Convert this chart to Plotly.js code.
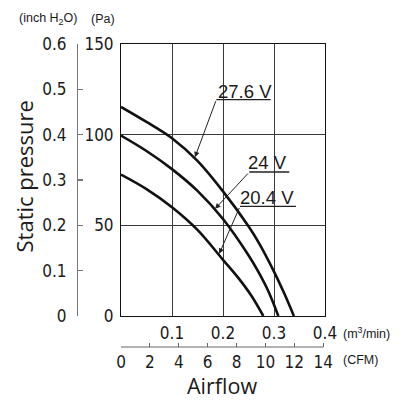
<!DOCTYPE html>
<html>
<head>
<meta charset="utf-8">
<script src="https://cdn.plot.ly/plotly-3.0.1.min.js"></script>
<style>
  html, body { margin: 0; padding: 0; background: #fff; }
  #chart { width: 406px; height: 416px; }
</style>
</head>
<body>
<div id="chart"></div>
<script>
// P-Q curves of the fan at three supply voltages (airflow in m³/min, pressure in Pa)
const flow276 = [0, 0.05, 0.10, 0.15, 0.20, 0.25, 0.27, 0.30, 0.32, 0.339];
const pa276   = [115.3, 107, 98, 85.5, 68.7, 49.5, 40.5, 24.5, 12.5, 0];
const flow24  = [0, 0.05, 0.10, 0.15, 0.20, 0.25, 0.27, 0.29, 0.3085];
const pa24    = [99.5, 91, 81, 69, 53.5, 33.5, 24, 13, 0];
const flow204 = [0, 0.05, 0.10, 0.15, 0.20, 0.23, 0.256, 0.279];
const pa204   = [78, 70, 60, 47.5, 31, 21, 11, 0];

const voltageLabels = ['27.6 V', '24 V', '20.4 V'];

// axis ticks
const flowTicks = [0.1, 0.2, 0.3, 0.4];
const paTicks = [0, 50, 100, 150];
const inchTicks = [0, 0.1, 0.2, 0.3, 0.4, 0.5, 0.6];
const cfmTicks = [0, 2, 4, 6, 8, 10, 12, 14];

const M3MIN_PER_CFM = 0.0283168;
const FLOW_MAX = 0.4;
const PA_MAX = 150;
const INCH_MAX = 0.6;

// page geometry (pixels)
const W = 406, H = 416;
const PAPER_L = 77, PAPER_R = 325, PAPER_T = 44, PAPER_B = 347;
const PLOT_L = 121, PLOT_B = 316;
const px = x => (x - PAPER_L) / (PAPER_R - PAPER_L);
const py = y => (PAPER_B - y) / (PAPER_B - PAPER_T);

const numFont = 'Liberation Sans Narrow, DejaVu Sans Condensed, Arial Narrow, sans-serif';
const textFont = 'Open Sans, Noto Sans, sans-serif';
const ink = '#1a1a1a';

// pressure on a curve at a given flow (linear between samples)
function pressureAt(xs, ys, q) {
  for (let i = 1; i < xs.length; i++) {
    if (q <= xs[i]) {
      const t = (q - xs[i - 1]) / (xs[i] - xs[i - 1]);
      return ys[i - 1] + t * (ys[i] - ys[i - 1]);
    }
  }
  return ys[ys.length - 1];
}

function curve(x, y) {
  return {
    x: x, y: y, type: 'scatter', mode: 'lines',
    line: { color: '#111', width: 2.6, shape: 'spline', smoothing: 1 },
    hoverinfo: 'skip', showlegend: false
  };
}

const traces = [
  curve(flow276, pa276),
  curve(flow24, pa24),
  curve(flow204, pa204),
  // carriers for the secondary scales
  { x: [0, 14], y: [null, null], xaxis: 'x2', yaxis: 'y', type: 'scatter', mode: 'lines',
    hoverinfo: 'skip', showlegend: false },
  { x: [null, null], y: [0, INCH_MAX], xaxis: 'x', yaxis: 'y2', type: 'scatter', mode: 'lines',
    hoverinfo: 'skip', showlegend: false }
];

// voltage callouts: text, underline, leader arrow to the curve
const callouts = [
  { text: voltageLabels[0], xs: flow276, ys: pa276, tx: 0.2422, ty: 123.9, u0: 0.1869, u1: 0.2935, uy: 119.3, aq: 0.1450 },
  { text: voltageLabels[1], xs: flow24,  ys: pa24,  tx: 0.2882, ty: 84.4,  u0: 0.2516, u1: 0.3300, uy: 79.4,  aq: 0.1845 },
  { text: voltageLabels[2], xs: flow204, ys: pa204, tx: 0.2857, ty: 65.5,  u0: 0.2333, u1: 0.3431, uy: 60.4,  aq: 0.1925 }
];

const annotations = [];
const shapes = [];
callouts.forEach(c => {
  annotations.push({
    x: c.tx, y: c.ty, xref: 'x', yref: 'y', text: c.text, showarrow: false,
    xanchor: 'center', yanchor: 'middle',
    font: { family: 'Liberation Sans, Arial, sans-serif', size: 18.5, color: ink }
  });
  shapes.push({
    type: 'line', xref: 'x', yref: 'y', x0: c.u0, x1: c.u1, y0: c.uy, y1: c.uy,
    line: { color: '#222', width: 1.3 }
  });
  annotations.push({
    x: c.aq, y: pressureAt(c.xs, c.ys, c.aq) + 0.8, xref: 'x', yref: 'y', text: '', showarrow: true,
    axref: 'x', ayref: 'y', ax: c.u0, ay: c.uy,
    arrowhead: 2, arrowsize: 1.1, arrowwidth: 1, arrowcolor: '#222', standoff: 0
  });
});

// CFM scale baseline (0 to 14 CFM)
shapes.push({
  type: 'line', xref: 'x2', yref: 'paper', x0: cfmTicks[0], x1: cfmTicks[cfmTicks.length - 1],
  y0: 0, y1: 0, line: { color: '#666', width: 1.2 }
});

const unitFont = { family: 'Liberation Sans, Arial, sans-serif', size: 12.5, color: ink };
annotations.push(
  { xref: 'paper', yref: 'paper', x: px(17), y: py(19), xanchor: 'left', yanchor: 'middle',
    text: '(inch H<sub>2</sub>O)', showarrow: false, font: unitFont },
  { xref: 'paper', yref: 'paper', x: px(89), y: py(19), xanchor: 'left', yanchor: 'middle',
    text: '(Pa)', showarrow: false, font: unitFont },
  { xref: 'paper', yref: 'paper', x: px(341), y: py(333), xanchor: 'left', yanchor: 'middle',
    text: '(m<sup>3</sup>/min)', showarrow: false, font: unitFont },
  { xref: 'paper', yref: 'paper', x: px(341), y: py(360), xanchor: 'left', yanchor: 'middle',
    text: '(CFM)', showarrow: false, font: unitFont },
  { xref: 'paper', yref: 'paper', x: px(23), y: py(176.5), xanchor: 'center', yanchor: 'middle',
    text: 'Static pressure', textangle: -90, showarrow: false,
    font: { family: textFont, size: 22, color: ink } },
  { xref: 'paper', yref: 'paper', x: px(222), y: py(385), xanchor: 'center', yanchor: 'middle',
    text: 'Airflow', showarrow: false,
    font: { family: textFont, size: 21.5, color: ink } }
);

const tickFont = { family: numFont, size: 17, color: ink };
const gridColor = '#3a3a3a';
const yDomain = [py(PLOT_B), 1];
const xDomain = [px(PLOT_L), 1];

const layout = {
  width: W, height: H,
  margin: { l: PAPER_L, r: W - PAPER_R, t: PAPER_T, b: H - PAPER_B, pad: 0 },
  paper_bgcolor: '#fff', plot_bgcolor: '#fff',
  showlegend: false,
  xaxis: {
    domain: xDomain, range: [0, FLOW_MAX], anchor: 'y',
    tickmode: 'array', tickvals: flowTicks, ticktext: flowTicks.map(v => v.toFixed(1)),
    ticks: '', ticklabelstandoff: 2, tickfont: tickFont,
    showgrid: true, gridcolor: gridColor, gridwidth: 1, zeroline: false,
    showline: true, linecolor: '#111', linewidth: 1, mirror: true
  },
  yaxis: {
    domain: yDomain, range: [0, PA_MAX], anchor: 'x',
    tickmode: 'array', tickvals: paTicks, ticktext: paTicks.map(String),
    ticks: '', ticklabelstandoff: 3, tickfont: tickFont,
    showgrid: true, gridcolor: gridColor, gridwidth: 1, zeroline: false,
    showline: true, linecolor: '#111', linewidth: 1, mirror: true
  },
  xaxis2: {
    overlaying: 'x', anchor: 'free', position: 0, side: 'bottom',
    range: [0, FLOW_MAX / M3MIN_PER_CFM],
    tickmode: 'array', tickvals: cfmTicks, ticktext: cfmTicks.map(String),
    ticks: 'inside', ticklen: 4, tickwidth: 1.2, tickcolor: '#666',
    ticklabelstandoff: 3, tickfont: tickFont,
    showgrid: false, zeroline: false, showline: false
  },
  yaxis2: {
    overlaying: 'y', anchor: 'free', position: 0, side: 'left',
    range: [0, INCH_MAX],
    tickmode: 'array', tickvals: inchTicks, ticktext: inchTicks.map(v => v === 0 ? '0' : v.toFixed(1)),
    ticks: 'inside', ticklen: 5, tickwidth: 1.2, tickcolor: '#777',
    ticklabelstandoff: 7, tickfont: tickFont,
    showgrid: false, zeroline: false,
    showline: true, linecolor: '#777', linewidth: 1.2
  },
  shapes: shapes,
  annotations: annotations
};

Plotly.newPlot('chart', traces, layout, { displayModeBar: false, staticPlot: true });
</script>
</body>
</html>
